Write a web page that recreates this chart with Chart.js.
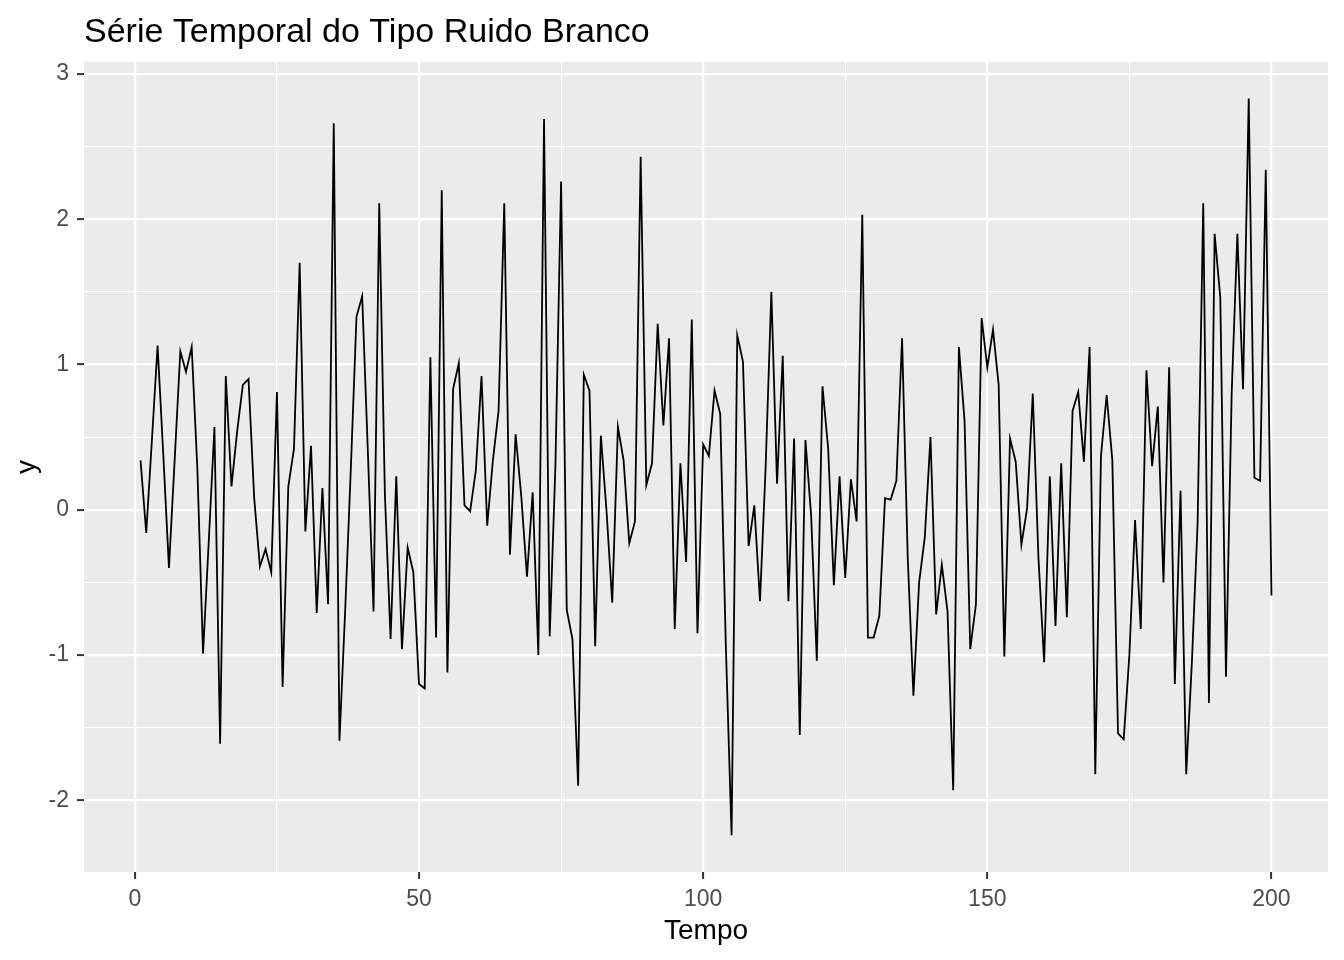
<!DOCTYPE html>
<html>
<head>
<meta charset="utf-8">
<title>Série Temporal do Tipo Ruido Branco</title>
<script src="https://cdn.jsdelivr.net/npm/chart.js@4"></script>
<style>
  html, body { margin: 0; padding: 0; background: #ffffff; }
  canvas { display: block; }
</style>
</head>
<body>
<canvas id="chart" width="1344" height="960"></canvas>
<script>
'use strict';

// time index 1..200
let tempo = Array.from({ length: 200 }, (_, i) => i + 1);

// values
let ruido = [
  0.34, -0.16, 0.48, 1.13, 0.38, -0.40, 0.34, 1.09, 0.95, 1.12,
  0.28, -0.99, -0.22, 0.57, -1.61, 0.92, 0.16, 0.54, 0.86, 0.90,
  0.08, -0.39, -0.27, -0.43, 0.81, -1.22, 0.16, 0.42, 1.70, -0.15,
  0.44, -0.71, 0.15, -0.65, 2.66, -1.59, -0.70, 0.28, 1.33, 1.47,
  0.40, -0.70, 2.11, 0.10, -0.89, 0.23, -0.96, -0.26, -0.43, -1.20,
  -1.23, 1.05, -0.88, 2.20, -1.12, 0.83, 1.01, 0.03, -0.01, 0.27,
  0.92, -0.11, 0.34, 0.68, 2.11, -0.31, 0.52, 0.09, -0.46, 0.12,
  -1.00, 2.69, -0.87, 0.30, 2.26, -0.69, -0.89, -1.90, 0.93, 0.82,
  -0.94, 0.51, -0.01, -0.64, 0.57, 0.34, -0.23, -0.08, 2.43, 0.17,
  0.32, 1.28, 0.58, 1.18, -0.82, 0.32, -0.36, 1.31, -0.85, 0.45,
  0.37, 0.82, 0.66, -0.95, -2.24, 1.20, 1.02, -0.25, 0.03, -0.63,
  0.30, 1.50, 0.18, 1.06, -0.63, 0.49, -1.55, 0.48, -0.04, -1.04,
  0.85, 0.42, -0.52, 0.23, -0.47, 0.21, -0.08, 2.03, -0.88, -0.88,
  -0.73, 0.08, 0.07, 0.20, 1.18, -0.33, -1.28, -0.50, -0.19, 0.50,
  -0.72, -0.38, -0.70, -1.93, 1.12, 0.61, -0.96, -0.65, 1.32, 0.98,
  1.24, 0.86, -1.01, 0.49, 0.33, -0.24, 0.01, 0.80, -0.33, -1.05,
  0.23, -0.80, 0.32, -0.74, 0.68, 0.81, 0.33, 1.12, -1.82, 0.37,
  0.79, 0.34, -1.54, -1.58, -1.00, -0.07, -0.82, 0.96, 0.30, 0.71,
  -0.50, 0.98, -1.20, 0.13, -1.82, -1.05, -0.10, 2.11, -1.33, 1.90,
  1.46, -1.15, 0.80, 1.90, 0.83, 2.83, 0.22, 0.20, 2.34, -0.59
];

// gridlines: labelled (major) and unlabelled (minor) breaks
let xBreaks = [0, 25, 50, 75, 100, 125, 150, 175, 200];
let xLabels = [0, 50, 100, 150, 200];
let yBreaks = [-2, -1.5, -1, -0.5, 0, 0.5, 1, 1.5, 2, 2.5, 3];
let yLabels = [-2, -1, 0, 1, 2, 3];

let fontFamily = '"Liberation Sans", Arial, sans-serif';

// ggplot-like 5% expansion of the data range
function expand(lo, hi) {
  let pad = (hi - lo) * 0.05;
  return [lo - pad, hi + pad];
}

let xRange = expand(Math.min(...tempo), Math.max(...tempo));
let yRange = expand(Math.min(...ruido), Math.max(...ruido));

const panelBg = {
  id: 'panelBg',
  beforeDraw(chart) {
    let a = chart.chartArea;
    chart.ctx.save();
    chart.ctx.fillStyle = '#EBEBEB';
    chart.ctx.fillRect(a.left, a.top, a.right - a.left, a.bottom - a.top);
    chart.ctx.restore();
  }
};

function renderChart() {
  let points = [];
  for (let i = 0; i < tempo.length; i++) {
    points.push({ x: tempo[i], y: ruido[i] });
  }

  const ctx = document.getElementById('chart');
  const config = {
    type: 'line',
    data: {
      datasets: [
        {
          label: 'y',
          data: points,
          borderColor: '#000000',
          borderWidth: 1.8,
          pointRadius: 0,
          tension: 0,
          fill: false
        }
      ]
    },
    options: {
      responsive: false,
      animation: false,
      devicePixelRatio: 1,
      layout: { padding: { left: 0, right: 16, top: 0, bottom: 0 } },
      plugins: {
        legend: { display: false },
        tooltip: { enabled: false },
        title: {
          display: true,
          text: 'Série Temporal do Tipo Ruido Branco',
          align: 'start',
          fullSize: false,
          color: '#000000',
          font: { family: fontFamily, size: 34, weight: 'normal' },
          padding: { top: 12, bottom: 9 }
        }
      },
      scales: {
        x: {
          type: 'linear',
          min: xRange[0],
          max: xRange[1],
          afterBuildTicks: (axis) => { axis.ticks = xBreaks.map(v => ({ value: v })); },
          afterFit: (axis) => { axis.height = 88; },
          border: { display: false },
          grid: {
            color: '#FFFFFF',
            lineWidth: (c) => (xLabels.includes(c.tick.value) ? 2.2 : 1.1),
            tickLength: 7,
            tickWidth: 2,
            tickColor: (c) => (xLabels.includes(c.tick.value) ? '#333333' : 'rgba(0,0,0,0)')
          },
          ticks: {
            autoSkip: false,
            maxRotation: 0,
            padding: 7,
            color: '#4D4D4D',
            font: { family: fontFamily, size: 23 },
            callback: (v) => (xLabels.includes(v) ? String(v) : '')
          },
          title: {
            display: true,
            text: 'Tempo',
            color: '#000000',
            font: { family: fontFamily, size: 28 },
            padding: { top: 0, bottom: 12 }
          }
        },
        y: {
          type: 'linear',
          min: yRange[0],
          max: yRange[1],
          afterBuildTicks: (axis) => { axis.ticks = yBreaks.map(v => ({ value: v })); },
          afterFit: (axis) => { axis.width = 84; },
          border: { display: false },
          grid: {
            color: '#FFFFFF',
            lineWidth: (c) => (yLabels.includes(c.tick.value) ? 2.2 : 1.1),
            tickLength: 7,
            tickWidth: 2,
            tickColor: (c) => (yLabels.includes(c.tick.value) ? '#333333' : 'rgba(0,0,0,0)')
          },
          ticks: {
            autoSkip: false,
            padding: 8,
            color: '#4D4D4D',
            font: { family: fontFamily, size: 23 },
            callback: (v) => (yLabels.includes(v) ? String(v) : '')
          },
          title: {
            display: true,
            text: 'y',
            color: '#000000',
            font: { family: fontFamily, size: 28 },
            padding: { top: 10, bottom: 0 }
          }
        }
      }
    },
    plugins: [panelBg]
  };

  new Chart(ctx, config);
}

renderChart();
</script>
</body>
</html>
